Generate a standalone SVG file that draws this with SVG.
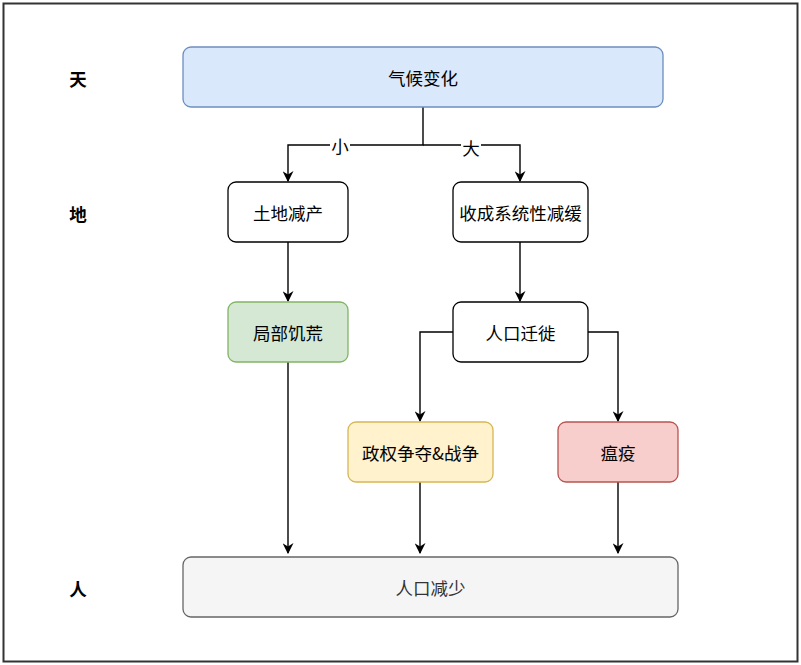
<svg xmlns="http://www.w3.org/2000/svg" width="801" height="665" viewBox="0 0 801 665">
<defs>
<marker id="arr" viewBox="0 0 10 10" refX="9" refY="5" markerWidth="11" markerHeight="11" markerUnits="userSpaceOnUse" orient="auto">
<path d="M0,0 L10,5 L0,10 L3,5 Z" fill="#000"/>
</marker>
</defs>
<style>
text{font-family:"Noto Sans CJK SC","Noto Sans",sans-serif;font-size:17.5px;text-anchor:middle;dominant-baseline:central;fill:#000}
.lane{font-weight:bold}
.n{stroke-width:1.3}
.e{fill:none;stroke:#000;stroke-width:1.4;marker-end:url(#arr)}
.lbl{fill:#fff}
</style>
<rect x="0" y="0" width="801" height="665" fill="#fff"/>
<rect x="3.5" y="3.5" width="794" height="658" fill="#fff" stroke="#333" stroke-width="2"/>
<g id="lanes">
<text class="lane" x="78" y="78">天</text>
<text class="lane" x="78" y="213">地</text>
<text class="lane" x="78" y="588">人</text>
</g>
<g id="connectors">
<path class="e" d="M423,107 V145 H288 V181"/>
<path class="e" d="M423,145 H520 V181"/>
<rect class="lbl" x="330" y="136" width="20" height="18"/>
<text x="340" y="145">小</text>
<rect class="lbl" x="461" y="138" width="20" height="18"/>
<text x="471" y="147">大</text>
<path class="e" d="M288,242 V301"/>
<path class="e" d="M520,242 V301"/>
<path class="e" d="M453,332 H420 V421"/>
<path class="e" d="M588,332 H618 V421"/>
<path class="e" d="M288,362 V553"/>
<path class="e" d="M420,482 V553"/>
<path class="e" d="M618,482 V553"/>
</g>
<g id="n1"><rect class="n" x="183" y="47" width="480" height="60" rx="8" fill="#dae8fc" stroke="#6c8ebf"/><text x="423" y="77">气候变化</text></g>
<g id="n2"><rect class="n" x="228" y="182" width="120" height="60" rx="8" fill="#fff" stroke="#000"/><text x="288" y="212">土地减产</text></g>
<g id="n3"><rect class="n" x="453" y="182" width="135" height="60" rx="8" fill="#fff" stroke="#000"/><text x="520.5" y="212">收成系统性减缓</text></g>
<g id="n4"><rect class="n" x="228" y="302" width="120" height="60" rx="8" fill="#d5e8d4" stroke="#82b366"/><text x="288" y="332">局部饥荒</text></g>
<g id="n5"><rect class="n" x="453" y="302" width="135" height="60" rx="8" fill="#fff" stroke="#000"/><text x="520.5" y="332">人口迁徙</text></g>
<g id="n6"><rect class="n" x="348" y="422" width="145" height="60" rx="8" fill="#fff2cc" stroke="#d6b656"/><text x="420.5" y="452">政权争夺&amp;战争</text></g>
<g id="n7"><rect class="n" x="558" y="422" width="120" height="60" rx="8" fill="#f8cecc" stroke="#b85450"/><text x="618" y="452">瘟疫</text></g>
<g id="n8"><rect class="n" x="183" y="557" width="495" height="60" rx="8" fill="#f5f5f5" stroke="#666"/><text x="430.5" y="587" style="fill:#333">人口减少</text></g>
</svg>
